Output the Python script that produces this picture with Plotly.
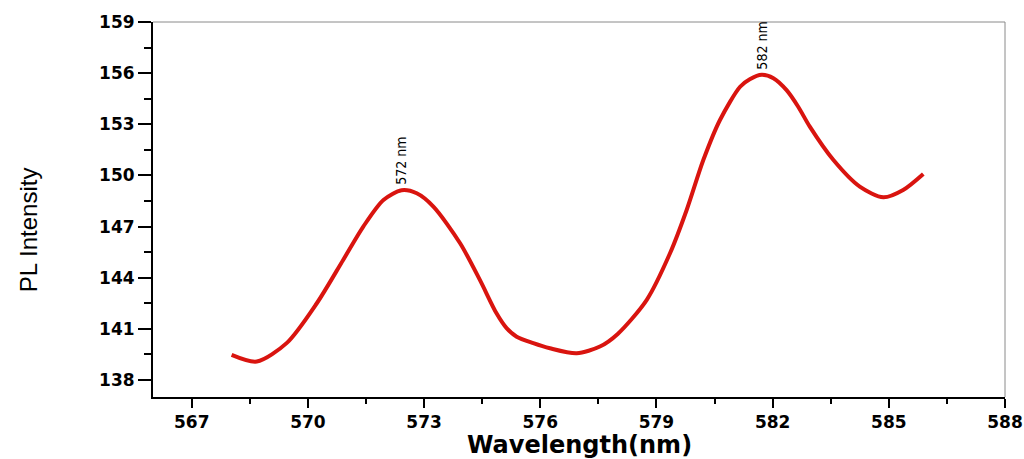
import plotly.graph_objects as go

# Data
wavelength = [568.03, 568.68, 569.45, 570.23, 570.91, 571.43, 571.95, 572.42, 572.81,
              573.24, 573.93, 574.44, 574.87, 575.13, 575.39, 575.82, 576.25, 576.94,
              577.54, 578.0, 578.75, 579.35, 579.78, 580.21, 580.64, 581.16, 581.41,
              581.72, 582.02, 582.36, 582.66, 582.96, 583.57, 584.25, 584.86, 585.37,
              585.89]
intensity = [139.47, 139.08, 140.16, 142.5, 145.04, 147.0, 148.56, 149.13, 148.95,
             148.17, 146.02, 143.87, 141.91, 141.04, 140.54, 140.16, 139.86, 139.57,
             139.96, 140.7, 142.7, 145.43, 147.97, 150.9, 153.25, 155.2, 155.64,
             155.9, 155.7, 155.0, 154.03, 152.86, 150.9, 149.34, 148.72, 149.15,
             150.09]

peak_labels = ["572 nm", "582 nm"]
peak_x = [572.42, 581.72]
peak_y = [149.13, 155.9]

x_ticks = [567, 570, 573, 576, 579, 582, 585, 588]
y_ticks = [138, 141, 144, 147, 150, 153, 156, 159]

fig = go.Figure()
fig.add_trace(go.Scatter(
    x=wavelength, y=intensity, mode="lines",
    line=dict(color="#d9140f", width=4, shape="spline", smoothing=0.8),
    showlegend=False, hoverinfo="skip",
))

tick_font = dict(family="DejaVu Sans", size=17, color="black", weight="bold")

fig.update_xaxes(
    range=[566, 588], tickmode="array", tickvals=x_ticks,
    ticktext=[str(v) for v in x_ticks], automargin=False,
    ticks="outside", ticklen=9, tickwidth=2, tickcolor="black",
    showline=True, linecolor="black", linewidth=2, mirror=False,
    showgrid=False, zeroline=False, tickfont=tick_font,
    minor=dict(ticks="outside", tickvals=[x + 1.5 for x in x_ticks[:-1]],
               ticklen=5, tickwidth=2, tickcolor="black"),
)
fig.update_yaxes(
    range=[137, 159], tickmode="array", tickvals=y_ticks,
    ticktext=[str(v) for v in y_ticks], automargin=False,
    ticks="outside", ticklen=13, tickwidth=2, tickcolor="black",
    showline=True, linecolor="black", linewidth=2, mirror=False,
    showgrid=False, zeroline=False, tickfont=tick_font,
    minor=dict(ticks="outside", tickvals=[y + 1.5 for y in y_ticks[:-1]],
               ticklen=7, tickwidth=2, tickcolor="black"),
)

annotations = []
for lbl, px, py in zip(peak_labels, peak_x, peak_y):
    annotations.append(dict(
        x=px, y=py, xref="x", yref="y", text=lbl, showarrow=False,
        textangle=-90, xanchor="center", yanchor="bottom", yshift=3,
        font=dict(family="Liberation Sans Narrow, DejaVu Sans Condensed, Liberation Sans",
                  size=14, color="black"),
    ))
annotations.append(dict(
    x=-0.1467, y=0.445, xref="paper", yref="paper", text="PL Intensity",
    showarrow=False, textangle=-90, xanchor="center", yanchor="middle",
    font=dict(family="Liberation Sans", size=24, color="black"),
))
annotations.append(dict(
    x=0.5, y=-0.128, xref="paper", yref="paper", text="Wavelength(nm)",
    showarrow=False, xanchor="center", yanchor="middle",
    font=dict(family="DejaVu Sans", size=24, color="black", weight="bold"),
))

fig.update_layout(
    width=1024, height=459,
    margin=dict(l=153, r=19, t=22, b=62, autoexpand=False),
    paper_bgcolor="white", plot_bgcolor="white",
    annotations=annotations,
    shapes=[
        dict(type="line", xref="paper", yref="paper", x0=0, x1=1, y0=1, y1=1,
             line=dict(color="#8a8a8a", width=1)),
        dict(type="line", xref="paper", yref="paper", x0=1, x1=1, y0=0, y1=1,
             line=dict(color="#8a8a8a", width=1)),
    ],
)

fig.write_html("out.html")
